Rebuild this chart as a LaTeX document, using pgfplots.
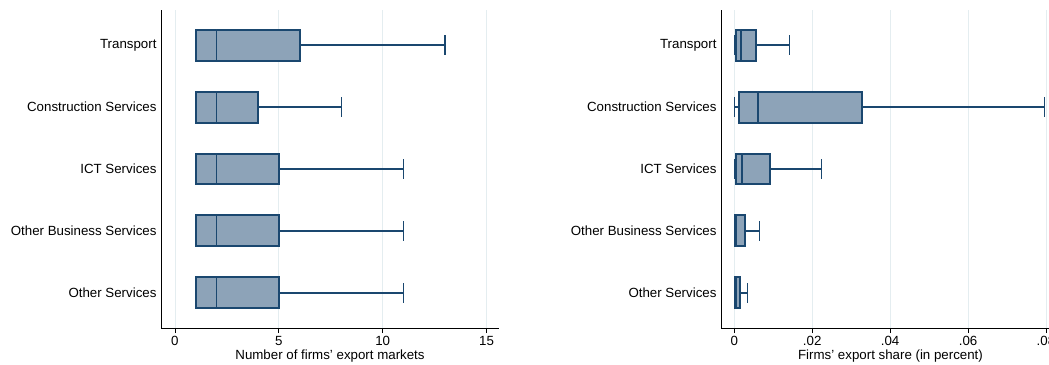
\documentclass[border=0pt]{standalone}
\usepackage{pgfplots}
\pgfplotsset{compat=1.18}
\usepgfplotslibrary{statistics}
\usepackage{fontspec}
\setmainfont{Liberation Sans}

\definecolor{stnavy}{RGB}{26,71,111}
\definecolor{boxfill}{RGB}{141,163,184}
\definecolor{gridc}{RGB}{228,237,240}

\pgfplotsset{
  panel/.style={
    scale only axis,
    height=318bp,
    ymin=0.435, ymax=5.565,
    axis x line*=bottom,
    axis y line*=left,
    axis line style={black, line width=0.8bp},
    ytick={1,2,3,4,5},
    yticklabels={Other Services, Other Business Services, ICT Services, Construction Services, Transport},
    y tick style={draw=none},
    yticklabel style={xshift=4bp},
    tick align=outside,
    x tick style={black, line width=0.6bp},
    major tick length=5bp,
    xmajorgrids,
    grid style={gridc, line width=0.8bp},
    scaled x ticks=false,
    tick label style={font=\fontsize{13.3bp}{15bp}\selectfont},
    label style={font=\fontsize{13.3bp}{15bp}\selectfont},
    /pgf/number format/assume math mode=true,
    xlabel style={yshift=3bp},
    boxplot/box extend=0.5,
    boxplot/whisker extend=0.32,
    boxplot/every box/.style={draw=stnavy, fill=boxfill, line width=2bp},
    boxplot/every whisker/.style={draw=stnavy, line width=1.1bp},
    boxplot/every median/.style={draw=stnavy, line width=1.8bp},
  },
  sbox/.style={draw=stnavy, fill=boxfill, line width=1.8bp, solid, mark=none},
}

\begin{document}
\begin{tikzpicture}
\useasboundingbox (0,0) rectangle (1049bp,365bp);

% Number of export markets
\begin{axis}[panel, at={(161bp,37bp)}, anchor=south west, width=338bp,
  xmin=-0.67, xmax=15.6, xtick={0,5,10,15},
  xlabel={Number of firms' export markets}]
  \addplot[sbox, boxplot prepared={draw position=5, lower whisker=1, lower quartile=1, median=2, upper quartile=6, upper whisker=13}] coordinates {};
  \addplot[sbox, boxplot prepared={draw position=4, lower whisker=1, lower quartile=1, median=2, upper quartile=4, upper whisker=8}] coordinates {};
  \addplot[sbox, boxplot prepared={draw position=3, lower whisker=1, lower quartile=1, median=2, upper quartile=5, upper whisker=11}] coordinates {};
  \addplot[sbox, boxplot prepared={draw position=2, lower whisker=1, lower quartile=1, median=2, upper quartile=5, upper whisker=11}] coordinates {};
  \addplot[sbox, boxplot prepared={draw position=1, lower whisker=1, lower quartile=1, median=2, upper quartile=5, upper whisker=11}] coordinates {};
\end{axis}

% Export share
\begin{axis}[panel, at={(721bp,37bp)}, anchor=south west, width=339bp,
  xmin=-0.0034, xmax=0.0836, xtick={0,0.02,0.04,0.06,0.08},
  xticklabels={0,.02,.04,.06,.08},
  xlabel={Firms' export share (in percent)}]
  \addplot[sbox, boxplot prepared={draw position=5, lower whisker=0, lower quartile=0.0004, median=0.0017, upper quartile=0.0057, upper whisker=0.0141}] coordinates {};
  \addplot[sbox, boxplot prepared={draw position=4, lower whisker=0, lower quartile=0.0013, median=0.0060, upper quartile=0.0328, upper whisker=0.0797}] coordinates {};
  \addplot[sbox, boxplot prepared={draw position=3, lower whisker=0, lower quartile=0.0004, median=0.0020, upper quartile=0.0092, upper whisker=0.0224}] coordinates {};
  \addplot[sbox, boxplot prepared={draw position=2, lower whisker=0, lower quartile=0.0003, median=0.0005, upper quartile=0.0027, upper whisker=0.0065}] coordinates {};
  \addplot[sbox, boxplot prepared={draw position=1, lower whisker=0, lower quartile=0.0003, median=0.0004, upper quartile=0.0014, upper whisker=0.0034}] coordinates {};
\end{axis}
\end{tikzpicture}
\end{document}
